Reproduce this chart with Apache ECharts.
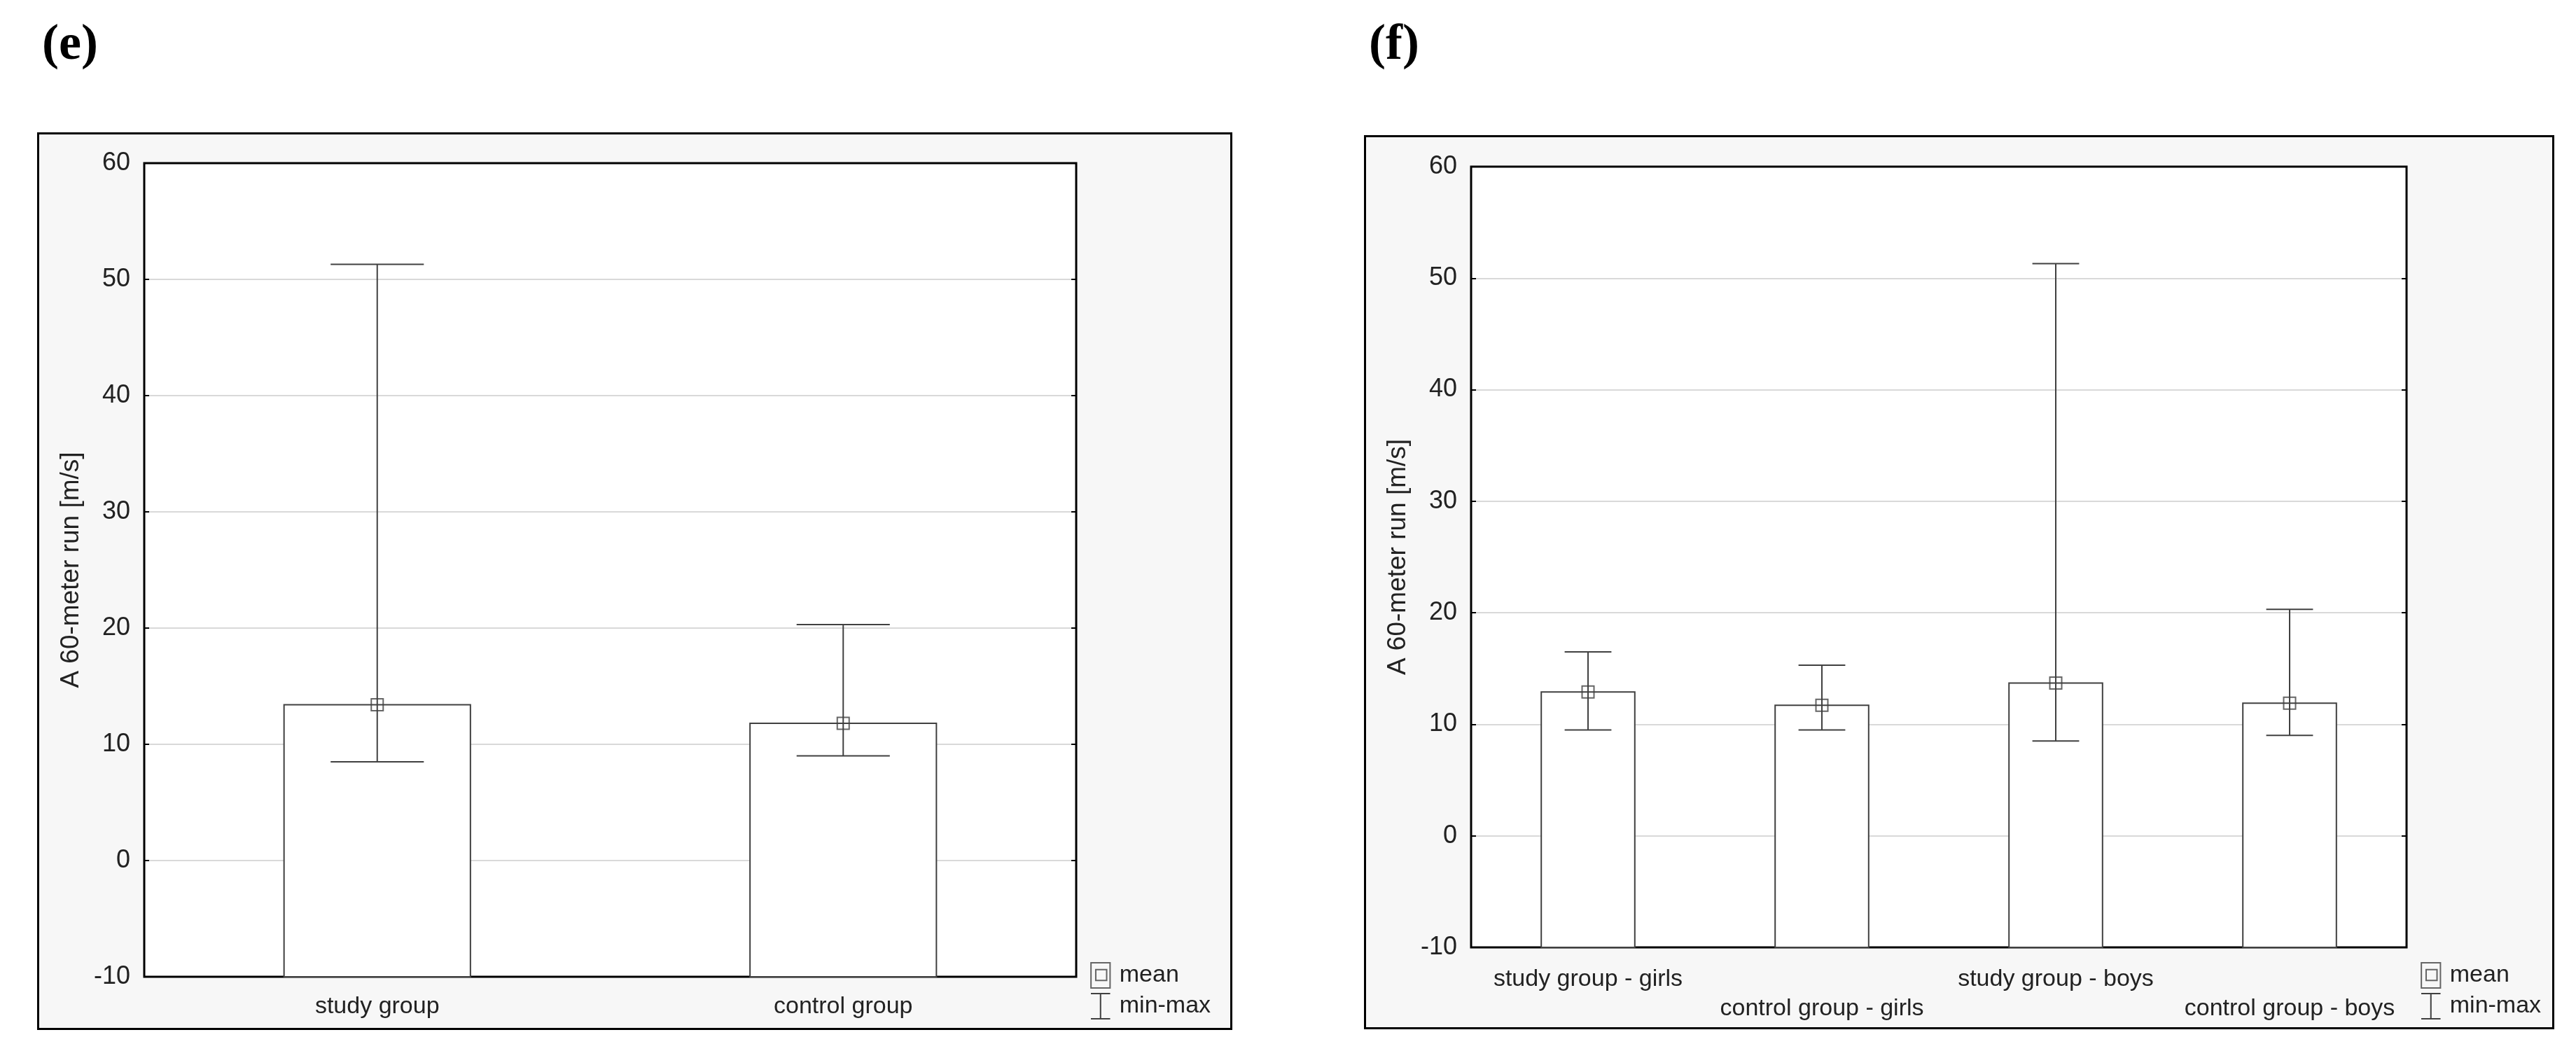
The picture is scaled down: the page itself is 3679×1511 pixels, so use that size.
<!DOCTYPE html>
<html lang="en">
<head>
<meta charset="utf-8">
<script src="https://cdn.jsdelivr.net/npm/echarts@6/dist/echarts.min.js"></script>
<style>
    html, body { margin: 0; padding: 0; background: #ffffff; }
    .frame {
        position: absolute;
        box-sizing: border-box;
        background: #f7f7f7;
        border: 3px solid #000;
    }
    #chart {
        position: absolute;
        left: 0; top: 0;
        width: 3679px; height: 1511px;
    }
</style>
</head>
<body>
<div class="frame" style="left:53px;top:189px;width:1707px;height:1282px"></div>
<div class="frame" style="left:1948px;top:193px;width:1700px;height:1277px"></div>
<div id="chart"></div>

<script type="text/javascript">
    // tick labels of the value axis
    var yTicks = [-10, 0, 10, 20, 30, 40, 50, 60];

    // panel (e)
    var groupsE = ['study group', 'control group'];
    var meanE = [13.4, 11.8];
    var minE = [8.5, 9.0];
    var maxE = [51.3, 20.3];

    // panel (f)
    var groupsF = ['study group - girls', 'control group - girls', 'study group - boys', 'control group - boys'];
    var meanF = [12.9, 11.7, 13.7, 11.9];
    var minF = [9.5, 9.5, 8.5, 9.0];
    var maxF = [16.5, 15.3, 51.3, 20.3];

    var ink = '#404040';
    var textColor = '#222222';
    var font = "'Liberation Sans', Arial, sans-serif";
    var yMin = yTicks[0];
    var yMax = yTicks[yTicks.length - 1];
    var yStep = yTicks[1] - yTicks[0];

    var chart = echarts.init(document.getElementById('chart'), null, {renderer: 'canvas'});

    // bar from the bottom of the axis up to the mean
    function barItem(params, api) {
        var x = api.value(0);
        var top = api.coord([x, api.value(1)]);
        var base = api.coord([x, yMin]);
        var w = api.size([1, 0])[0] * 0.4;
        return {
            type: 'rect',
            shape: {x: top[0] - w / 2, y: top[1], width: w, height: base[1] - top[1]},
            style: {fill: '#ffffff', stroke: ink, lineWidth: 2}
        };
    }

    // min-max whisker, caps half the bar width
    function whiskerItem(params, api) {
        var x = api.value(0);
        var lo = api.coord([x, api.value(1)]);
        var hi = api.coord([x, api.value(2)]);
        var half = api.size([1, 0])[0] * 0.1;
        var st = {stroke: ink, lineWidth: 2, fill: null};
        return {
            type: 'group',
            children: [
                {type: 'line', shape: {x1: lo[0], y1: lo[1], x2: hi[0], y2: hi[1]}, style: st},
                {type: 'line', shape: {x1: lo[0] - half, y1: lo[1], x2: lo[0] + half, y2: lo[1]}, style: st},
                {type: 'line', shape: {x1: hi[0] - half, y1: hi[1], x2: hi[0] + half, y2: hi[1]}, style: st}
            ]
        };
    }

    function pairs(vals) {
        return vals.map(function (v, i) { return [i, v]; });
    }
    function triples(lo, hi) {
        return lo.map(function (v, i) { return [i, v, hi[i]]; });
    }

    function bottomAxis(grid, cats, margin, alternate) {
        return {
            type: 'category', gridIndex: grid, position: 'bottom', data: cats,
            axisLine: {show: false},
            axisTick: {show: true, inside: true, alignWithLabel: true, length: 7, lineStyle: {color: '#000', width: 2}},
            axisLabel: {
                show: true, interval: 0, margin: margin, color: textColor,
                fontFamily: font, fontSize: 34, lineHeight: 42,
                formatter: function (v, i) { return alternate && i % 2 ? '\n' + v : v; }
            },
            splitLine: {show: false}
        };
    }
    function topAxis(grid, cats) {
        return {
            type: 'category', gridIndex: grid, position: 'top', data: cats,
            axisLine: {show: false},
            axisTick: {show: true, inside: true, alignWithLabel: true, length: 7, lineStyle: {color: '#000', width: 2}},
            axisLabel: {show: false},
            splitLine: {show: false}
        };
    }
    function leftAxis(grid) {
        return {
            type: 'value', gridIndex: grid, position: 'left',
            min: yMin, max: yMax, interval: yStep,
            name: 'A 60-meter run [m/s]', nameLocation: 'middle', nameGap: 86,
            nameTextStyle: {color: textColor, fontFamily: font, fontSize: 37},
            axisLine: {show: false},
            axisTick: {show: true, inside: true, length: 7, lineStyle: {color: '#000', width: 2}},
            axisLabel: {color: textColor, fontFamily: font, fontSize: 36, margin: 20},
            splitLine: {show: true, showMinLine: false, showMaxLine: false,
                lineStyle: {color: '#d9d9d9', width: 2}}
        };
    }
    function rightAxis(grid) {
        return {
            type: 'value', gridIndex: grid, position: 'right',
            min: yMin, max: yMax, interval: yStep,
            axisLine: {show: false},
            axisTick: {show: true, inside: true, length: 7, lineStyle: {color: '#000', width: 2}},
            axisLabel: {show: false},
            splitLine: {show: false}
        };
    }

    function panelSeries(axisX, axisY, means, mins, maxs) {
        return [
            {
                name: 'bars', type: 'custom', xAxisIndex: axisX, yAxisIndex: axisY,
                renderItem: barItem, encode: {x: 0, y: 1}, data: pairs(means), z: 2, silent: true
            },
            {
                name: 'min-max', type: 'custom', xAxisIndex: axisX, yAxisIndex: axisY,
                renderItem: whiskerItem, encode: {x: 0, y: [1, 2]}, data: triples(mins, maxs),
                itemStyle: {color: ink}, z: 3, silent: true
            },
            {
                name: 'mean', type: 'scatter', xAxisIndex: axisX, yAxisIndex: axisY,
                data: pairs(means), symbol: 'rect', symbolSize: 17,
                itemStyle: {color: 'rgba(0,0,0,0)', borderColor: ink, borderWidth: 2},
                z: 4, silent: true
            }
        ];
    }

    var legendData = [
        {name: 'mean', icon: 'path://M0,0H28V37H0ZM7,10H23V26H7Z',
            itemStyle: {color: 'rgba(0,0,0,0)', borderColor: ink, borderWidth: 2}},
        {name: 'min-max', icon: 'path://M0,0H26M13,0V34M0,34H26',
            itemStyle: {color: 'rgba(0,0,0,0)', borderColor: ink, borderWidth: 2}}
    ];
    function legendAt(left, top) {
        return {
            orient: 'vertical', left: left, top: top,
            itemWidth: 28, itemHeight: 36, itemGap: 6,
            selectedMode: false, data: legendData,
            textStyle: {color: textColor, fontFamily: font, fontSize: 34, padding: [0, 0, 0, 8]}
        };
    }

    var option = {
        animation: false,
        backgroundColor: 'transparent',
        title: [
            {text: '(e)', left: 55, top: 24,
                textStyle: {fontFamily: "'Liberation Serif', 'Times New Roman', serif", fontWeight: 'bold', fontSize: 72, color: '#000'}},
            {text: '(f)', left: 1950, top: 24,
                textStyle: {fontFamily: "'Liberation Serif', 'Times New Roman', serif", fontWeight: 'bold', fontSize: 72, color: '#000'}}
        ],
        legend: [legendAt(1552, 1369), legendAt(3452, 1369)],
        grid: [
            {left: 206, top: 233, width: 1331, height: 1162, show: true,
                backgroundColor: '#ffffff', borderColor: '#000', borderWidth: 3},
            {left: 2101, top: 238, width: 1336, height: 1115, show: true,
                backgroundColor: '#ffffff', borderColor: '#000', borderWidth: 3}
        ],
        xAxis: [
            bottomAxis(0, groupsE, 22, false),
            topAxis(0, groupsE),
            bottomAxis(1, groupsF, 25, true),
            topAxis(1, groupsF)
        ],
        yAxis: [
            leftAxis(0),
            rightAxis(0),
            leftAxis(1),
            rightAxis(1)
        ],
        series: panelSeries(0, 0, meanE, minE, maxE).concat(panelSeries(2, 2, meanF, minF, maxF))
    };

    chart.setOption(option);
</script>
</body>
</html>
